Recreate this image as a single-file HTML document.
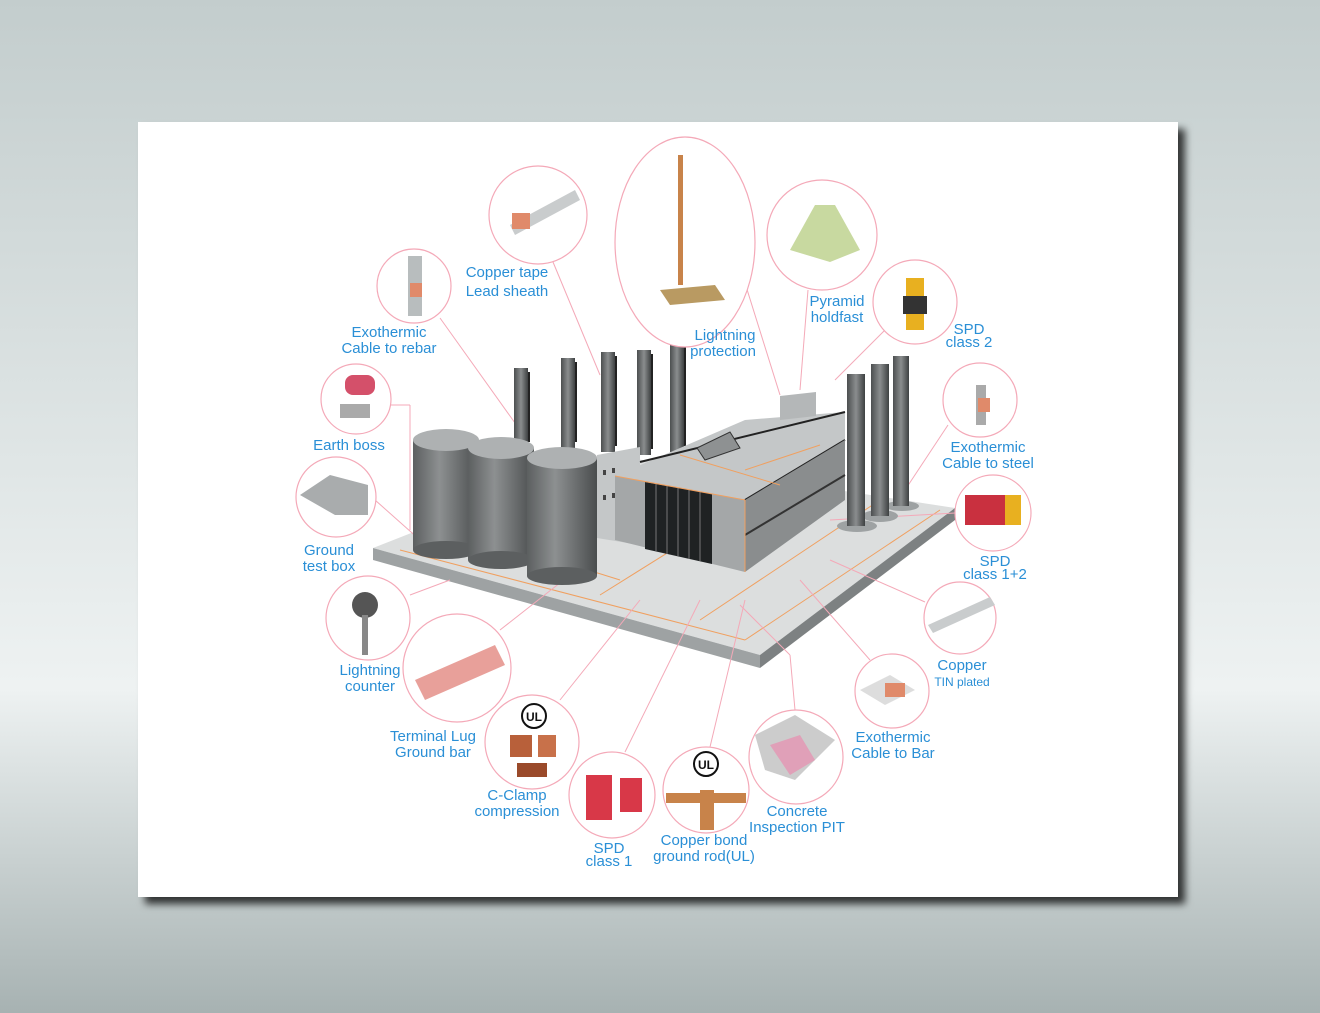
<!DOCTYPE html>
<html><head><meta charset="utf-8"><style>
html,body{margin:0;padding:0;width:1320px;height:1013px;overflow:hidden}
body{background:linear-gradient(180deg,#c3cdcd 0%,#d9e0e0 35%,#eef2f2 68%,#d3dada 80%,#a7b2b2 100%);font-family:"Liberation Sans",sans-serif}
</style></head><body>
<svg width="1320" height="1013" viewBox="0 0 1320 1013" xmlns="http://www.w3.org/2000/svg" style="position:absolute;left:0;top:0">
<defs>
<filter id="sh" x="-5%" y="-5%" width="115%" height="115%"><feDropShadow dx="7" dy="7" stdDeviation="4" flood-color="#000" flood-opacity="0.75"/></filter>
<linearGradient id="cyl" x1="0" x2="1"><stop offset="0" stop-color="#5c5f60"/><stop offset="0.4" stop-color="#8d9091"/><stop offset="1" stop-color="#4a4d4e"/></linearGradient>
<linearGradient id="chim" x1="0" x2="1"><stop offset="0" stop-color="#4c4f50"/><stop offset="0.5" stop-color="#8a8d8e"/><stop offset="1" stop-color="#3e4142"/></linearGradient>
</defs>
<rect x="138" y="122" width="1040" height="775" fill="#fff" filter="url(#sh)"/>
<!-- platform -->
<polygon points="373,548 610,455 955,508 760,655" fill="#dcdede"/>
<polygon points="373,548 760,655 760,668 373,560" fill="#9ea2a3"/>
<polygon points="760,655 955,508 955,520 760,668" fill="#7d8182"/>
<g stroke="#f0a060" stroke-width="1" fill="none">
<line x1="400" y1="550" x2="745" y2="640"/><line x1="745" y1="640" x2="940" y2="510"/>
<line x1="600" y1="595" x2="800" y2="470"/><line x1="700" y1="620" x2="880" y2="500"/>
<line x1="460" y1="530" x2="620" y2="580"/>
</g>
<!-- connector lines -->
<g stroke="#f4a9b8" stroke-width="1" fill="none">
<line x1="440" y1="318" x2="520" y2="430"/><line x1="553" y1="262" x2="600" y2="375"/>
<line x1="745" y1="283" x2="780" y2="395"/><line x1="808" y1="290" x2="800" y2="390"/>
<line x1="885" y1="330" x2="835" y2="380"/><line x1="948" y1="425" x2="905" y2="490"/>
<line x1="955" y1="513" x2="830" y2="520"/><line x1="925" y1="602" x2="830" y2="560"/>
<line x1="870" y1="660" x2="800" y2="580"/><line x1="795" y1="710" x2="790" y2="655"/><line x1="790" y1="655" x2="740" y2="605"/>
<line x1="710" y1="747" x2="745" y2="600"/><line x1="625" y1="752" x2="700" y2="600"/>
<line x1="560" y1="700" x2="640" y2="600"/><line x1="500" y1="630" x2="570" y2="575"/>
<line x1="410" y1="595" x2="450" y2="580"/><line x1="375" y1="500" x2="420" y2="540"/>
<line x1="390" y1="405" x2="410" y2="405"/><line x1="410" y1="405" x2="410" y2="530"/>
</g>
<!-- left chimneys -->
<g fill="url(#chim)">
<rect x="514" y="368" width="14" height="80"/><rect x="561" y="358" width="14" height="90"/><rect x="601" y="352" width="14" height="100"/><rect x="637" y="350" width="14" height="105"/><rect x="670" y="342" width="14" height="110"/>
</g>
<g fill="#222"><rect x="528" y="372" width="2" height="70"/><rect x="575" y="362" width="2" height="80"/><rect x="615" y="356" width="2" height="90"/><rect x="651" y="354" width="2" height="95"/><rect x="684" y="346" width="2" height="100"/></g>
<!-- tanks -->
<g>
<rect x="413" y="440" width="66" height="110" fill="url(#cyl)"/><ellipse cx="446" cy="440" rx="33" ry="11" fill="#aeb1b2"/><ellipse cx="446" cy="550" rx="33" ry="9" fill="#5c5f60"/>
<rect x="468" y="448" width="66" height="112" fill="url(#cyl)"/><ellipse cx="501" cy="448" rx="33" ry="11" fill="#aeb1b2"/><ellipse cx="501" cy="560" rx="33" ry="9" fill="#5c5f60"/>
<rect x="527" y="458" width="70" height="118" fill="url(#cyl)"/><ellipse cx="562" cy="458" rx="35" ry="11" fill="#aeb1b2"/><ellipse cx="562" cy="576" rx="35" ry="9" fill="#5c5f60"/>
</g>
<!-- small block left -->
<polygon points="597,455 640,447 640,545 597,538" fill="#c4c7c8"/>
<g fill="#444"><rect x="603" y="470" width="3" height="5"/><rect x="612" y="468" width="3" height="5"/><rect x="603" y="495" width="3" height="5"/><rect x="612" y="493" width="3" height="5"/></g>
<!-- main building -->
<polygon points="615,476 745,420 845,412 845,440 745,500" fill="#c4c7c8"/>
<line x1="640" y1="462" x2="845" y2="412" stroke="#222" stroke-width="2"/>
<line x1="745" y1="500" x2="845" y2="440" stroke="#222" stroke-width="2"/>
<polygon points="615,476 745,500 745,572 615,540" fill="#a4a7a8"/>
<polygon points="645,482 712,494 712,564 645,549" fill="#1f2223"/>
<g stroke="#777" stroke-width="1"><line x1="656" y1="484" x2="656" y2="551"/><line x1="667" y1="486" x2="667" y2="554"/><line x1="678" y1="488" x2="678" y2="556"/><line x1="689" y1="490" x2="689" y2="559"/><line x1="700" y1="492" x2="700" y2="561"/></g>
<polygon points="745,500 845,440 845,500 745,572" fill="#8a8d8e"/>
<line x1="745" y1="535" x2="845" y2="475" stroke="#333" stroke-width="2"/>
<g stroke="#f0a060" stroke-width="1"><line x1="745" y1="500" x2="745" y2="572"/><line x1="615" y1="476" x2="745" y2="500"/><line x1="680" y1="455" x2="780" y2="485"/><line x1="745" y1="470" x2="820" y2="445"/></g>
<polygon points="780,396 816,392 816,416 780,420" fill="#b4b7b8"/>
<polygon points="697,448 730,432 740,448 705,460" fill="#8e9192" stroke="#333" stroke-width="1"/>
<!-- right chimneys -->
<g fill="#9ea2a3"><ellipse cx="857" cy="526" rx="20" ry="6"/><ellipse cx="880" cy="516" rx="18" ry="6"/><ellipse cx="902" cy="506" rx="17" ry="5"/></g>
<g fill="url(#chim)">
<rect x="847" y="374" width="18" height="152"/><rect x="871" y="364" width="18" height="152"/><rect x="893" y="356" width="16" height="150"/>
</g>
<!-- circles -->
<g fill="#fff" stroke="#f4a9b8" stroke-width="1.2">
<circle cx="538" cy="215" r="49"/><ellipse cx="685" cy="242" rx="70" ry="105"/><circle cx="822" cy="235" r="55"/>
<circle cx="414" cy="286" r="37"/><circle cx="915" cy="302" r="42"/><circle cx="356" cy="399" r="35"/>
<circle cx="980" cy="400" r="37"/><circle cx="336" cy="497" r="40"/><circle cx="993" cy="513" r="38"/>
<circle cx="368" cy="618" r="42"/><circle cx="960" cy="618" r="36"/><circle cx="457" cy="668" r="54"/>
<circle cx="892" cy="691" r="37"/><circle cx="532" cy="742" r="47"/><circle cx="796" cy="757" r="47"/>
<circle cx="612" cy="795" r="43"/><circle cx="706" cy="790" r="43"/>
</g>
<!-- icons -->
<polygon points="510,225 575,190 580,200 515,235" fill="#c9cccd"/><rect x="512" y="213" width="18" height="16" fill="#e08a6a"/>
<rect x="678" y="155" width="5" height="130" fill="#c8834a"/><polygon points="660,290 715,285 725,300 670,305" fill="#b99a62"/>
<polygon points="790,250 815,205 835,205 860,250 830,262" fill="#c8d9a0"/>
<rect x="906" y="278" width="18" height="52" fill="#e8b020"/><rect x="903" y="296" width="24" height="18" fill="#333"/>
<rect x="408" y="256" width="14" height="60" fill="#b8bdbe"/><rect x="410" y="283" width="12" height="14" fill="#e08a6a"/>
<rect x="345" y="375" width="30" height="20" rx="8" fill="#d4506a"/><rect x="340" y="404" width="30" height="14" fill="#aaa"/>
<rect x="976" y="385" width="10" height="40" fill="#aaa"/><rect x="978" y="398" width="12" height="14" fill="#e08a6a"/>
<polygon points="300,495 330,475 368,485 368,515 335,515" fill="#a9acad"/>
<rect x="965" y="495" width="55" height="30" fill="#c9303f"/><rect x="1005" y="495" width="16" height="30" fill="#e8b020"/>
<circle cx="365" cy="605" r="13" fill="#555"/><rect x="362" y="615" width="6" height="40" fill="#888"/>
<polygon points="928,625 990,597 995,605 933,633" fill="#c9cccd"/>
<polygon points="415,680 495,645 505,665 425,700" fill="#e8a09a"/>
<polygon points="860,690 890,675 915,690 885,705" fill="#ddd"/><rect x="885" y="683" width="20" height="14" fill="#e08a6a"/>
<rect x="510" y="735" width="22" height="22" fill="#b8603a"/><rect x="538" y="735" width="18" height="22" fill="#c8714a"/><rect x="517" y="763" width="30" height="14" fill="#9a4a2a"/>
<rect x="586" y="775" width="26" height="45" fill="#d83848"/><rect x="620" y="778" width="22" height="34" fill="#d83848"/>
<circle cx="706" cy="764" r="12" fill="none" stroke="#111" stroke-width="2"/><text x="706" y="769" font-size="12" font-weight="bold" text-anchor="middle" fill="#111">UL</text>
<rect x="666" y="793" width="80" height="10" fill="#c8834a"/><rect x="700" y="790" width="14" height="40" fill="#c8834a"/>
<polygon points="755,735 795,715 835,740 795,780 765,770" fill="#ccc"/><polygon points="770,745 800,735 815,760 790,775" fill="#e0a0b8"/>
<circle cx="534" cy="716" r="12" fill="#fff" stroke="#111" stroke-width="2"/><text x="534" y="721" font-size="12" font-weight="bold" text-anchor="middle" fill="#111">UL</text>
<!-- labels -->
<g font-family="Liberation Sans, sans-serif" font-size="15" fill="#2a8fd6" text-anchor="middle">
<text x="507" y="277">Copper tape</text><text x="507" y="296">Lead sheath</text>
<text x="725" y="340">Lightning</text><text x="723" y="356">protection</text>
<text x="837" y="306">Pyramid</text><text x="837" y="322">holdfast</text>
<text x="389" y="337">Exothermic</text><text x="389" y="353">Cable to rebar</text>
<text x="969" y="334">SPD</text><text x="969" y="347">class 2</text>
<text x="349" y="450">Earth boss</text>
<text x="988" y="452">Exothermic</text><text x="988" y="468">Cable to steel</text>
<text x="329" y="555">Ground</text><text x="329" y="571">test box</text>
<text x="995" y="566">SPD</text><text x="995" y="579">class 1+2</text>
<text x="370" y="675">Lightning</text><text x="370" y="691">counter</text>
<text x="962" y="670">Copper</text><text x="962" y="686" font-size="12">TIN plated</text>
<text x="433" y="741">Terminal Lug</text><text x="433" y="757">Ground bar</text>
<text x="893" y="742">Exothermic</text><text x="893" y="758">Cable to Bar</text>
<text x="517" y="800">C-Clamp</text><text x="517" y="816">compression</text>
<text x="797" y="816">Concrete</text><text x="797" y="832">Inspection PIT</text>
<text x="704" y="845">Copper bond</text><text x="704" y="861">ground rod(UL)</text>
<text x="609" y="853">SPD</text><text x="609" y="866">class 1</text>
</g>
</svg>
</body></html>
